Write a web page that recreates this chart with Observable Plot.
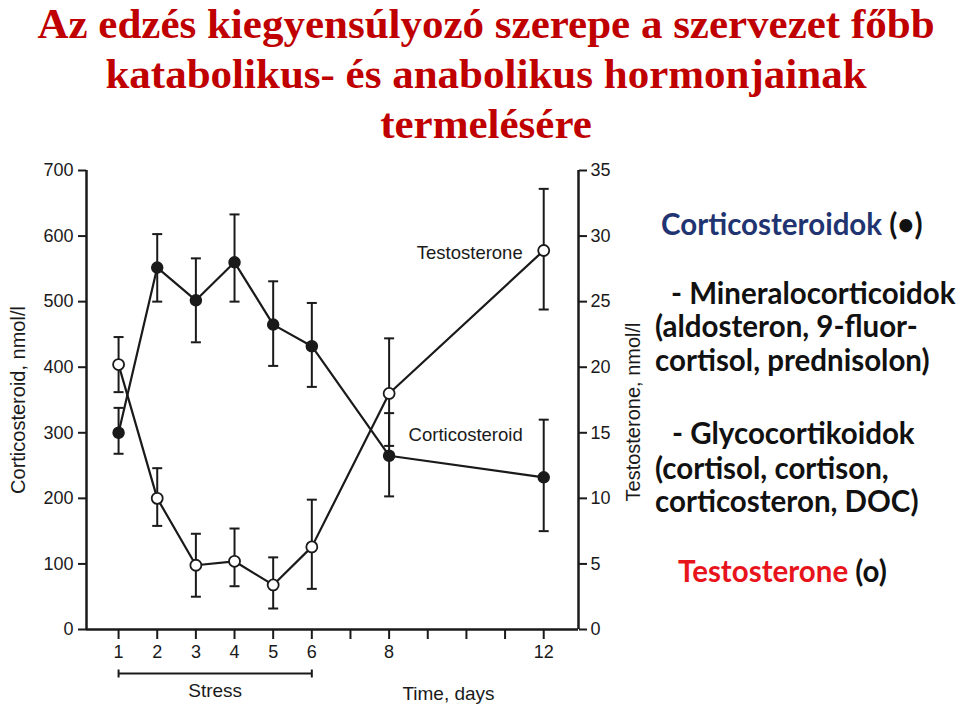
<!DOCTYPE html>
<html>
<head>
<meta charset="utf-8">
<script src="https://cdn.jsdelivr.net/npm/d3@7"></script>
<script src="https://cdn.jsdelivr.net/npm/@observablehq/plot@0.6"></script>
<style>
  html, body { margin: 0; padding: 0; background: #fff; }
  body { width: 960px; height: 713px; overflow: hidden; position: relative; }
  .tline { position: absolute; left: 0; width: 972px; text-align: center;
           font-family: "Liberation Serif", "Times New Roman", serif; font-weight: bold;
           color: #c00000; font-size: 43px; line-height: 36px; white-space: nowrap; }
  #chart { position: absolute; left: 0; top: 150px; }
  .note { position: absolute; left: 655px; font-family: Lato, "Noto Sans", sans-serif;
          font-size: 29.5px; line-height: 34.5px; color: #111; white-space: pre; font-weight: bold; }
  .blue { color: #1f3470; }
  .red { color: #e8141c; }
</style>
</head>
<body>
<div class="tline" style="top:6px">Az edzés kiegyensúlyozó szerepe a szervezet főbb</div>
<div class="tline" style="top:56px">katabolikus- és anabolikus hormonjainak</div>
<div class="tline" style="top:106px">termelésére</div>
<div id="chart"></div>
<div class="note" style="top:207px;padding-left:6px"><span class="blue">Corticosteroidok</span> (•)</div>
<div class="note" style="top:276px;padding-left:16px">- Mineralocorticoidok</div>
<div class="note" style="top:309px">(aldosteron, 9-fluor-</div>
<div class="note" style="top:343px">cortisol, prednisolon)</div>
<div class="note" style="top:416px;padding-left:17px">- Glycocortikoidok</div>
<div class="note" style="top:451px">(cortisol, cortison,</div>
<div class="note" style="top:484px">corticosteron, DOC)</div>
<div class="note" style="top:554px;padding-left:23px"><span class="red">Testosterone</span> (o)</div>
<script>
// ---- data ----
const days      = [1, 2, 3, 4, 5, 6, 8, 12];
const cortMean  = [300, 552, 502, 560, 465, 432, 265, 232];
const cortLow   = [268, 500, 438, 500, 402, 370, 203, 150];
const cortHigh  = [338, 603, 566, 633, 531, 498, 330, 320];
const testMean  = [20.2, 10.0, 4.9, 5.2, 3.4, 6.3, 18.0, 28.9];
const testLow   = [18.1, 7.9, 2.5, 3.3, 1.6, 3.1, 14.0, 24.4];
const testHigh  = [22.3, 12.3, 7.3, 7.7, 5.5, 9.9, 22.2, 33.6];
const leftTicks  = [0, 100, 200, 300, 400, 500, 600, 700];
const rightTicks = [0, 5, 10, 15, 20, 25, 30, 35];
const dayTicks   = [1, 2, 3, 4, 5, 6, 7, 8, 9, 10, 11, 12];
const dayLabels  = [1, 2, 3, 4, 5, 6, 8, 12];
const stressDays = [1, 6];

// ---- derived ----
const ratio = 700 / 35; // testosterone -> corticosteroid axis
const xDomain = [0.17, 12.9];
const cort = days.map((d, i) => ({day: d, mean: cortMean[i], lo: cortLow[i], hi: cortHigh[i]}));
const test = days.map((d, i) => ({day: d, mean: testMean[i] * ratio, lo: testLow[i] * ratio, hi: testHigh[i] * ratio}));

const ink = "#1a1a1a";
const hCap = {draw(ctx, size) { const r = Math.sqrt(size / Math.PI); ctx.moveTo(-r, 0); ctx.lineTo(r, 0); }};
const vCap = {draw(ctx, size) { const r = Math.sqrt(size / Math.PI); ctx.moveTo(0, -r); ctx.lineTo(0, r); }};
const fs = 18.5;

const chart = Plot.plot({
  width: 650,
  height: 563,
  marginLeft: 86,
  marginRight: 72,
  marginTop: 20,
  marginBottom: 84,
  x: {domain: xDomain},
  y: {domain: [0, 700]},
  style: {fontFamily: "'Liberation Sans', Arial, sans-serif", color: ink, background: "transparent"},
  marks: [
    // frame (left, right, bottom)
    Plot.ruleX(xDomain, {stroke: ink, strokeWidth: 2.5}),
    Plot.ruleY([0], {stroke: ink, strokeWidth: 2.5}),
    // axes
    Plot.axisY(leftTicks, {anchor: "left", tickSize: 8, tickPadding: 5, fontSize: 18, label: null, strokeWidth: 2}),
    Plot.axisY(rightTicks.map(t => t * ratio), {anchor: "right", tickSize: 8, tickPadding: 4, fontSize: 18, label: null, strokeWidth: 2, tickFormat: d => d / ratio}),
    Plot.axisX(dayTicks, {anchor: "bottom", tickSize: 10, tickPadding: 6, fontSize: 18, label: null, strokeWidth: 2,
      tickFormat: d => dayLabels.includes(d) ? d : ""}),
    // axis titles
    Plot.text(["Corticosteroid, nmol/l"], {text: d => d, frameAnchor: "left", textAnchor: "middle", lineAnchor: "middle", rotate: -90, dx: -68, dy: 0, fontSize: 20}),
    Plot.text(["Testosterone, nmol/l"], {text: d => d, frameAnchor: "right", textAnchor: "middle", lineAnchor: "middle", rotate: -90, dx: 55, dy: 12, fontSize: 20}),
    Plot.text(["Time, days"], {text: d => d, frameAnchor: "bottom", textAnchor: "middle", lineAnchor: "middle", dx: 116, dy: 64, fontSize: 19}),
    // stress bracket
    Plot.ruleY([stressDays], {x1: d => d[0], x2: d => d[1], y: () => 0, dy: 44, stroke: ink, strokeWidth: 2}),
    Plot.dot(stressDays, {x: d => d, y: () => 0, dy: 44, symbol: vCap, r: 4, stroke: ink, strokeWidth: 2}),
    Plot.text([stressDays], {x: d => (d[0] + d[1]) / 2, y: () => 0, dy: 61, text: () => "Stress", fontSize: 19}),
    // series lines
    Plot.line(test, {x: "day", y: "mean", stroke: ink, strokeWidth: 2.2}),
    Plot.line(cort, {x: "day", y: "mean", stroke: ink, strokeWidth: 2.2}),
    // error bars
    Plot.ruleX(cort, {x: "day", y1: "lo", y2: "hi", stroke: ink, strokeWidth: 2}),
    Plot.ruleX(test, {x: "day", y1: "lo", y2: "hi", stroke: ink, strokeWidth: 2}),
    Plot.dot(cort, {x: "day", y: "lo", symbol: hCap, r: 5, stroke: ink, strokeWidth: 2}),
    Plot.dot(cort, {x: "day", y: "hi", symbol: hCap, r: 5, stroke: ink, strokeWidth: 2}),
    Plot.dot(test, {x: "day", y: "lo", symbol: hCap, r: 5, stroke: ink, strokeWidth: 2}),
    Plot.dot(test, {x: "day", y: "hi", symbol: hCap, r: 5, stroke: ink, strokeWidth: 2}),
    // points
    Plot.dot(cort, {x: "day", y: "mean", r: 5.5, fill: ink, stroke: ink}),
    Plot.dot(test, {x: "day", y: "mean", r: 5.5, fill: "#fff", stroke: ink, strokeWidth: 1.8}),
    // series labels
    Plot.text(test.slice(-1), {x: "day", y: "mean", text: () => "Testosterone", textAnchor: "end", dx: -21, dy: 3, fontSize: fs}),
    Plot.text(cort.slice(-1), {x: "day", y: "mean", text: () => "Corticosteroid", textAnchor: "end", dx: -21, dy: -42, fontSize: fs})
  ]
});
document.getElementById("chart").appendChild(chart);
</script>
</body>
</html>
